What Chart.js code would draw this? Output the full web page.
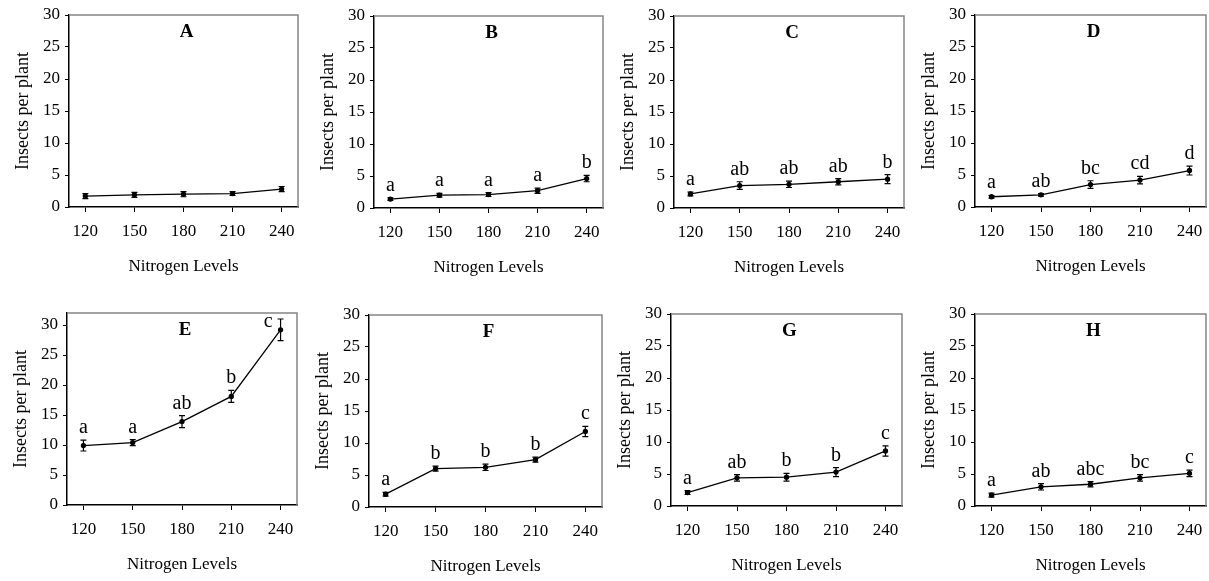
<!DOCTYPE html>
<html><head><meta charset="utf-8">
<script src="https://cdn.jsdelivr.net/npm/chart.js@4"></script>
<style>
html,body{margin:0;padding:0;background:#fff;width:1209px;height:581px;overflow:hidden;position:relative}
canvas{position:absolute}
</style></head><body>
<script>
// ---- data ----
const nitrogenLevels = [120, 150, 180, 210, 240];
const yTickValues = [0, 5, 10, 15, 20, 25, 30];

const meanA = [1.7, 1.9, 2.0, 2.1, 2.8];
const errA  = [0.4, 0.4, 0.4, 0.3, 0.4];
const letA  = ['', '', '', '', ''];

const meanB = [1.4, 2.0, 2.1, 2.7, 4.6];
const errB  = [0.2, 0.3, 0.3, 0.4, 0.5];
const letB  = ['a', 'a', 'a', 'a', 'b'];

const meanC = [2.2, 3.5, 3.7, 4.1, 4.5];
const errC  = [0.3, 0.6, 0.5, 0.5, 0.7];
const letC  = ['a', 'ab', 'ab', 'ab', 'b'];

const meanD = [1.6, 1.9, 3.5, 4.2, 5.7];
const errD  = [0.2, 0.2, 0.6, 0.6, 0.7];
const letD  = ['a', 'ab', 'bc', 'cd', 'd'];

const meanE = [9.9, 10.4, 13.9, 18.1, 29.2];
const errE  = [0.9, 0.5, 1.0, 1.0, 1.8];
const letE  = ['a', 'a', 'ab', 'b', 'c'];

const meanF = [2.0, 6.0, 6.2, 7.4, 11.8];
const errF  = [0.3, 0.4, 0.5, 0.4, 0.8];
const letF  = ['a', 'b', 'b', 'b', 'c'];

const meanG = [2.1, 4.4, 4.5, 5.3, 8.6];
const errG  = [0.3, 0.5, 0.6, 0.7, 0.8];
const letG  = ['a', 'ab', 'b', 'b', 'c'];

const meanH = [1.7, 3.0, 3.4, 4.4, 5.1];
const errH  = [0.3, 0.5, 0.4, 0.5, 0.5];
const letH  = ['a', 'ab', 'abc', 'bc', 'c'];

const xTitle = 'Nitrogen Levels';
const yTitle = 'Insects per plant';

// ---- layout (plot box in page pixels: left, top, right, bottom) ----
const panels = [
  {name: 'A', mean: meanA, err: errA, letters: letA, yMax: 30, box: [69, 15, 298, 207]},
  {name: 'B', mean: meanB, err: errB, letters: letB, yMax: 30, box: [374, 16, 603, 208]},
  {name: 'C', mean: meanC, err: errC, letters: letC, yMax: 30, box: [674, 16, 904, 208]},
  {name: 'D', mean: meanD, err: errD, letters: letD, yMax: 30, box: [975, 15, 1206, 207]},
  {name: 'E', mean: meanE, err: errE, letters: letE, yMax: 32, box: [67, 313, 297, 505]},
  {name: 'F', mean: meanF, err: errF, letters: letF, yMax: 30, box: [369, 315, 602, 507]},
  {name: 'G', mean: meanG, err: errG, letters: letG, yMax: 30, box: [671, 314, 902, 506]},
  {name: 'H', mean: meanH, err: errH, letters: letH, yMax: 30, box: [975, 314, 1206, 506]}
];

const FONT = '"Liberation Serif", "Times New Roman", serif';
const PAD_TOP = 16, PAD_RIGHT = 14, Y_W = 70, X_H = 70;

const panelPlugin = {
  id: 'panelDecor',
  afterDatasetsDraw(chart, args, opts) {
    const p = opts.panel;
    const ctx = chart.ctx;
    const xs = chart.scales.x, ys = chart.scales.y;
    const a = chart.chartArea;
    ctx.save();
    // frame top + right
    ctx.strokeStyle = '#858585';
    ctx.lineWidth = 1.5;
    ctx.beginPath();
    ctx.moveTo(a.left, a.top);
    ctx.lineTo(a.right, a.top);
    ctx.lineTo(a.right, a.bottom);
    ctx.stroke();
    // error bars
    ctx.strokeStyle = '#000';
    ctx.lineWidth = 1.2;
    p.mean.forEach((m, i) => {
      const x = xs.getPixelForValue(nitrogenLevels[i]);
      const yHi = ys.getPixelForValue(m + p.err[i]);
      const yLo = ys.getPixelForValue(m - p.err[i]);
      ctx.beginPath();
      ctx.moveTo(x, yHi); ctx.lineTo(x, yLo);
      ctx.moveTo(x - 3, yHi); ctx.lineTo(x + 3, yHi);
      ctx.moveTo(x - 3, yLo); ctx.lineTo(x + 3, yLo);
      ctx.stroke();
    });
    // significance letters
    ctx.fillStyle = '#000';
    ctx.font = '20px ' + FONT;
    ctx.textBaseline = 'alphabetic';
    p.letters.forEach((t, i) => {
      if (!t) return;
      const m = p.mean[i];
      const x = xs.getPixelForValue(nitrogenLevels[i]);
      let y = ys.getPixelForValue(m + p.err[i]) - 7;
      if (y - 14 < a.top) {
        ctx.textAlign = 'right';
        ctx.fillText(t, x - 8, ys.getPixelForValue(m) - 3);
      } else {
        ctx.textAlign = 'center';
        ctx.fillText(t, x, y);
      }
    });
    // panel letter
    ctx.font = 'bold 19px ' + FONT;
    ctx.textAlign = 'center';
    ctx.textBaseline = 'middle';
    ctx.fillText(p.name, (a.left + a.right) / 2 + 3, a.top + 17);
    ctx.restore();
  }
};

panels.forEach(p => {
  const [L, T, R, B] = p.box;
  const c = document.createElement('canvas');
  const w = (R - L) + Y_W + PAD_RIGHT;
  const h = (B - T) + PAD_TOP + X_H;
  c.width = w; c.height = h;
  c.style.left = (L - Y_W) + 'px';
  c.style.top = (T - PAD_TOP) + 'px';
  c.style.width = w + 'px'; c.style.height = h + 'px';
  document.body.appendChild(c);

  const axisGrid = (len) => ({drawOnChartArea: false, drawTicks: true, tickLength: len, color: '#000', lineWidth: 1});
  new Chart(c, {
    type: 'line',
    data: {
      datasets: [{
        data: p.mean.map((v, i) => ({x: nitrogenLevels[i], y: v})),
        borderColor: '#000', borderWidth: 1.3,
        pointRadius: 2, pointBackgroundColor: '#000', pointBorderColor: '#000',
        tension: 0, fill: false
      }]
    },
    options: {
      responsive: false, animation: false, devicePixelRatio: 1,
      layout: {padding: {left: 0, top: PAD_TOP, right: PAD_RIGHT, bottom: 0}},
      plugins: {legend: {display: false}, tooltip: {enabled: false}, title: {display: false}, panelDecor: {panel: p}},
      scales: {
        x: {
          type: 'linear', min: 110, max: 250,
          afterBuildTicks: s => { s.ticks = nitrogenLevels.map(v => ({value: v})); },
          afterFit: s => { s.height = X_H; },
          grid: axisGrid(5),
          border: {display: true, color: '#000', width: 1.5},
          ticks: {color: '#000', font: {family: FONT, size: 17}, padding: 9, maxRotation: 0, autoSkip: false},
          title: {display: true, text: xTitle, color: '#000', font: {family: FONT, size: 17}, padding: {top: 0, bottom: 0}}
        },
        y: {
          min: 0, max: p.yMax,
          afterBuildTicks: s => { s.ticks = yTickValues.map(v => ({value: v})); },
          afterFit: s => { s.width = Y_W; },
          grid: axisGrid(4),
          border: {display: true, color: '#000', width: 1.5},
          ticks: {color: '#000', font: {family: FONT, size: 17}, padding: 5},
          title: {display: true, text: yTitle, color: '#000', font: {family: FONT, size: 18}, padding: {top: 13, bottom: 0}}
        }
      }
    },
    plugins: [panelPlugin]
  });
});
</script>
</body></html>
